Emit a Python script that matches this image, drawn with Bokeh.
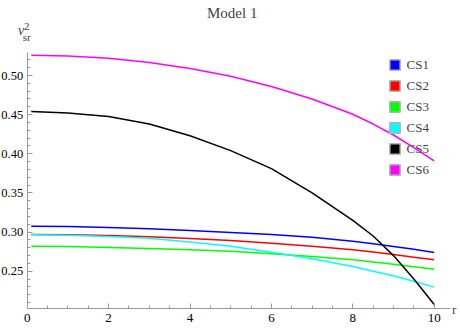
from bokeh.plotting import figure
from bokeh.models import (SingleIntervalTicker, PrintfTickFormatter, Legend, LegendItem,
                          Label, Range1d)
from bokeh.embed import file_html
from bokeh.resources import INLINE

# ---- data ----
r = [0.1, 1, 2, 3, 4, 5, 6, 7, 8, 8.5, 9, 9.5, 10]
cs1 = [0.3076, 0.3070, 0.3059, 0.3042, 0.3020, 0.2995, 0.2969, 0.2935, 0.2884, 0.2852, 0.2816, 0.2780, 0.2740]
cs2 = [0.2969, 0.2965, 0.2957, 0.2940, 0.2918, 0.2893, 0.2858, 0.2820, 0.2774, 0.2745, 0.2714, 0.2680, 0.2646]
cs3 = [0.2820, 0.2815, 0.2803, 0.2790, 0.2774, 0.2754, 0.2722, 0.2688, 0.2646, 0.2619, 0.2590, 0.2558, 0.2526]
cs4 = [0.2966, 0.2960, 0.2945, 0.2920, 0.2875, 0.2818, 0.2744, 0.2660, 0.2560, 0.2500, 0.2442, 0.2372, 0.2297]
cs5 = [0.4540, 0.4520, 0.4477, 0.4380, 0.4230, 0.4040, 0.3810, 0.3500, 0.3150, 0.2950, 0.2700, 0.2400, 0.2075]
cs6 = [0.5260, 0.5250, 0.5220, 0.5165, 0.5090, 0.4990, 0.4860, 0.4700, 0.4505, 0.4380, 0.4240, 0.4080, 0.3910]

names = ["CS1", "CS2", "CS3", "CS4", "CS5", "CS6"]
series = [cs1, cs2, cs3, cs4, cs5, cs6]
colors = ["#0000FF", "#FF0000", "#00FF00", "#00FFFF", "#000000", "#FF00FF"]

title_text = "Model 1"
x_label = "r"

FONT = "Liberation Serif"
AXIS_GRAY = "#9a9a9a"
NAN = float("nan")

W, H = 460, 329
# frame covers the whole canvas; axes are pinned with fixed_location
PX_X = 40.7            # pixels per unit r
PX_Y = 783.0           # pixels per unit v^2
X0 = -26.7 / PX_X
X1 = X0 + W / PX_X
Y1 = 0.50 + 75 / PX_Y
Y0 = Y1 - H / PX_Y

def dx(px):   # canvas pixel (from left) -> data x
    return X0 + px / PX_X

def dy(py):   # canvas pixel (from top) -> data y
    return Y1 - py / PX_Y

AXIS_Y = dy(308.3)     # where the r-axis sits
AXIS_TOP = dy(51.7)

p = figure(width=W, height=H, output_backend="svg", toolbar_location=None,
           x_range=Range1d(X0, X1), y_range=Range1d(Y0, Y1),
           min_border_left=0, min_border_right=0, min_border_top=0, min_border_bottom=0)

p.outline_line_color = None
p.xgrid.visible = False
p.ygrid.visible = False
p.background_fill_color = "white"
p.border_fill_color = "white"

p.xaxis.ticker = SingleIntervalTicker(interval=2, num_minor_ticks=4)
p.yaxis.ticker = SingleIntervalTicker(interval=0.05, num_minor_ticks=5)
p.yaxis.formatter = PrintfTickFormatter(format="%.2f")
p.xaxis.fixed_location = AXIS_Y
p.yaxis.fixed_location = 0
p.xaxis.bounds = (0, 10.4)
p.yaxis.bounds = (AXIS_Y, AXIS_TOP)

for ax in (p.xaxis, p.yaxis):
    ax.axis_line_color = AXIS_GRAY
    ax.axis_line_width = 1
    ax.major_tick_line_color = AXIS_GRAY
    ax.minor_tick_line_color = AXIS_GRAY
    ax.major_tick_in = 5
    ax.major_tick_out = 0
    ax.minor_tick_in = 3
    ax.minor_tick_out = 0
    ax.major_label_text_font = FONT
    ax.major_label_text_color = "black"
p.xaxis.major_label_text_font_size = "13px"
p.yaxis.major_label_text_font_size = "12.5px"
p.xaxis.major_label_standoff = 5
p.yaxis.major_label_standoff = 4

for vals, c in zip(series, colors):
    p.line(r, vals, line_color=c, line_width=1.5)

# legend with square swatches
items = []
for n, c in zip(names, colors):
    sw = p.quad(left=[NAN], right=[NAN], top=[NAN], bottom=[NAN], fill_color=c,
                line_color="#b4b4b4", line_width=1.5)
    items.append(LegendItem(label=n, renderers=[sw]))

legend = Legend(items=items, location=(387.5, 151.5), padding=0, margin=0,
                spacing=5, glyph_width=13, glyph_height=13, label_height=13,
                label_standoff=6, label_text_font=FONT, label_text_font_size="13px",
                border_line_color=None, background_fill_alpha=0)
p.add_layout(legend, "center")

# title and axis labels (vertical positions are text centres)
p.add_layout(Label(x=dx(231.7), y=dy(12.7), text=title_text, text_align="center",
                   text_font=FONT, text_font_size="15px", text_baseline="middle"))
p.add_layout(Label(x=dx(17.5), y=dy(30.3), text="v", text_font=FONT, text_font_style="italic",
                   text_font_size="14px", text_baseline="middle"))
p.add_layout(Label(x=dx(23.5), y=dy(25.8), text="2", text_font=FONT,
                   text_font_size="11px", text_baseline="middle"))
p.add_layout(Label(x=dx(22.3), y=dy(36.3), text="sr", text_font=FONT,
                   text_font_size="11px", text_baseline="middle"))
p.add_layout(Label(x=dx(451.5), y=dy(308.6), text=x_label, text_font=FONT,
                   text_font_size="13px", text_baseline="middle"))

open("out.html", "w").write(file_html(p, INLINE))
